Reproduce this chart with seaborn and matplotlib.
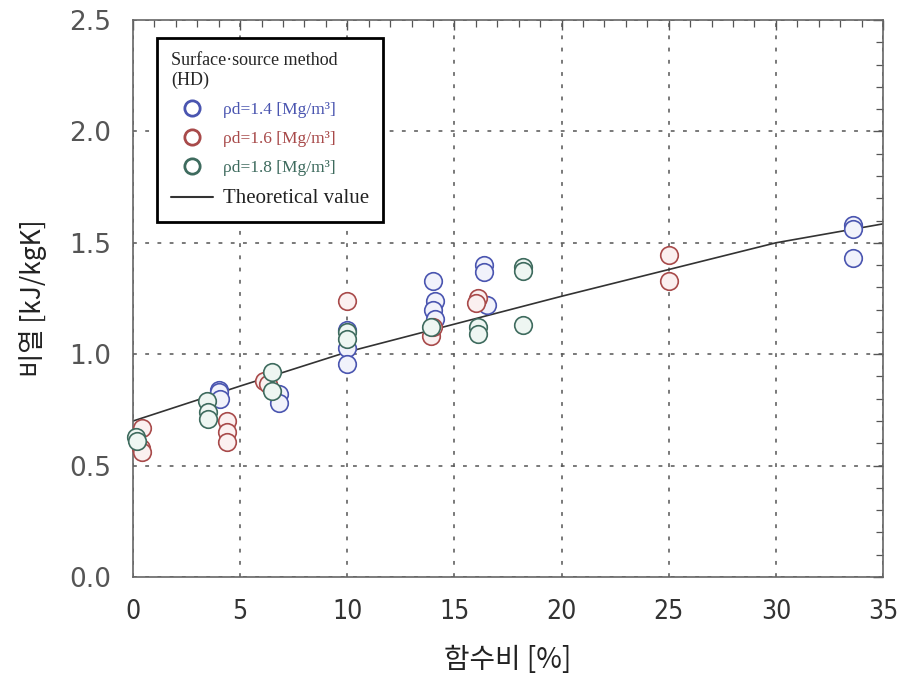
import matplotlib
matplotlib.use("Agg")
import matplotlib.pyplot as plt
from matplotlib.lines import Line2D
from matplotlib.ticker import MultipleLocator
import seaborn as sns
import pandas as pd

# Measured specific heat vs. water content, by dry density
x_14 = [4.0, 4.0, 4.05, 6.8, 6.8, 10.0, 10.0, 10.0, 14.0, 14.1, 14.0, 14.1, 16.4, 16.4, 16.5, 33.6, 33.6, 33.6]
y_14 = [0.84, 0.83, 0.80, 0.82, 0.78, 1.03, 0.955, 1.11, 1.33, 1.24, 1.20, 1.16, 1.40, 1.37, 1.22, 1.58, 1.56, 1.43]

x_16 = [0.4, 0.35, 0.4, 4.4, 4.4, 4.4, 6.1, 6.3, 10.0, 13.9, 14.0, 16.1, 16.0, 25.0, 25.0]
y_16 = [0.67, 0.58, 0.56, 0.70, 0.65, 0.605, 0.88, 0.865, 1.24, 1.08, 1.12, 1.25, 1.23, 1.445, 1.33]

x_18 = [0.15, 0.2, 3.45, 3.5, 3.5, 6.5, 6.5, 10.0, 10.0, 13.9, 16.1, 16.1, 18.2, 18.2, 18.2]
y_18 = [0.63, 0.61, 0.79, 0.74, 0.71, 0.92, 0.835, 1.10, 1.07, 1.12, 1.12, 1.09, 1.39, 1.375, 1.13]

# Theoretical curve
x_theory = [0, 5, 10, 15, 20, 25, 30, 35]
y_theory = [0.70, 0.857, 1.01, 1.135, 1.26, 1.38, 1.50, 1.585]

labels = ["ρd=1.4 [Mg/m³]", "ρd=1.6 [Mg/m³]", "ρd=1.8 [Mg/m³]"]
edge_colors = ["#4a55b0", "#a84a4a", "#3e6b5e"]
face_colors = ["#f1f2fb", "#fbf0f0", "#eef6f2"]

x_ticks = [0, 5, 10, 15, 20, 25, 30, 35]
y_ticks = [0.0, 0.5, 1.0, 1.5, 2.0, 2.5]

df = pd.concat([
    pd.DataFrame({"w": x_14, "c": y_14, "group": labels[0]}),
    pd.DataFrame({"w": x_16, "c": y_16, "group": labels[1]}),
    pd.DataFrame({"w": x_18, "c": y_18, "group": labels[2]}),
], ignore_index=True)
theory = pd.DataFrame({"w": x_theory, "c": y_theory})

sns.set_theme(style="white")
plt.rcParams["font.family"] = ["DejaVu Sans"]

fig = plt.figure(figsize=(9.03, 6.90), dpi=100)
ax = fig.add_axes([0.1473, 0.1638, 0.8306, 0.8072])

sns.lineplot(data=theory, x="w", y="c", ax=ax, color="#333333", linewidth=1.2, zorder=2)

for lab, ec, fc in zip(labels, edge_colors, face_colors):
    sub = df[df["group"] == lab]
    sns.scatterplot(data=sub, x="w", y="c", ax=ax, s=160, marker="o", linewidth=1.2,
                    zorder=3, clip_on=False)
    coll = ax.collections[-1]
    coll.set_facecolor(fc)
    coll.set_edgecolor(ec)

ax.set_xlim(0, 35)
ax.set_ylim(0, 2.5)
ax.set_xticks(x_ticks)
ax.set_yticks(y_ticks)
ax.xaxis.set_minor_locator(MultipleLocator(1))
ax.yaxis.set_minor_locator(MultipleLocator(0.1))
ax.set_xticklabels([str(v) for v in x_ticks], family=["DejaVu Sans"], fontstretch="condensed",
                   fontsize=19, color="#333333")
ax.set_yticklabels([f"{v:.1f}" for v in y_ticks], fontsize=19, color="#555555")

ax.tick_params(which="both", direction="in", top=True, right=True, color="#555555")
ax.tick_params(axis="x", which="major", length=7, width=1.0, pad=16)
ax.tick_params(axis="y", which="major", length=7, width=1.0, pad=16)
ax.tick_params(which="minor", length=5, width=0.9)

ax.grid(True, which="major", linestyle=(0, (2.5, 5.5)), color="#555555", linewidth=1.1)
for sp in ax.spines.values():
    sp.set_color("#666666")
    sp.set_linewidth(1.2)

ax.set_xlabel("함수비 [%]", family=["Noto Sans CJK KR", "DejaVu Sans"], fontsize=20,
              color="#222222", labelpad=14)
ax.set_ylabel("비열 [kJ/kgK]", family=["Noto Sans CJK KR", "DejaVu Sans"], fontsize=19,
              color="#222222", labelpad=16)

handles = [Line2D([], [], marker="o", linestyle="none", markersize=11, markerfacecolor="white",
                  markeredgecolor=ec, markeredgewidth=2.0) for ec in edge_colors]
handles.append(Line2D([], [], color="#333333", linewidth=1.5))
leg_labels = labels + ["Theoretical value"]
leg = ax.legend(handles, leg_labels, title="Surface·source method\n(HD)", loc="upper left",
                bbox_to_anchor=(0.032, 0.968), borderaxespad=0, frameon=True, fancybox=False,
                framealpha=1, edgecolor="black", borderpad=0.8, labelspacing=0.75,
                handlelength=2.4, handletextpad=0.6, alignment="left",
                prop={"family": ["Liberation Serif", "DejaVu Serif"], "size": 12.5},
                title_fontproperties={"family": ["Liberation Serif", "DejaVu Serif"], "size": 13})
leg.get_frame().set_linewidth(2.0)
for txt, col in zip(leg.get_texts(), edge_colors + ["#222222"]):
    txt.set_color(col)
leg.get_texts()[-1].set_fontsize(15)
leg.set_zorder(5)

fig.savefig("out.png", dpi=100)
